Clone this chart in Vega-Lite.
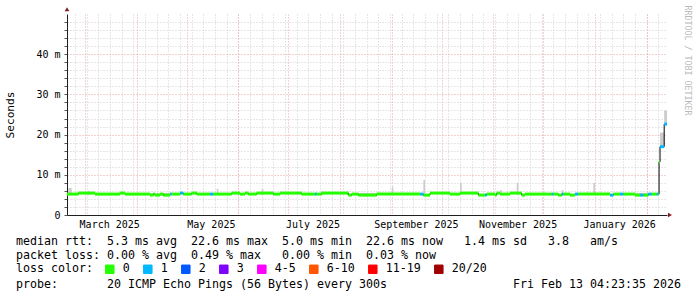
{
  "$schema": "https://vega.github.io/schema/vega-lite/v6.json",
  "width": 600,
  "height": 201,
  "autosize": {"type": "none"},
  "padding": {"left": 67, "top": 14, "right": 30, "bottom": 82},
  "background": "#ffffff",
  "config": {
    "view": {"stroke": null},
    "font": "DejaVu Sans Mono",
    "axis": {"labelFont": "DejaVu Sans Mono", "titleFont": "DejaVu Sans Mono", "labelColor": "#000000", "titleColor": "#000000", "domainColor": "#1f1f1f", "tickColor": "#1f1f1f", "titleFontWeight": "normal"}
  },
  "datasets": {
    "median": [
      {"t0": "2025-02-18T04:23:35Z", "t1": "2025-02-25", "rtt": 5.2, "loss": "0"},
      {"t0": "2025-02-25", "t1": "2025-03-07", "rtt": 5.45, "loss": "0"},
      {"t0": "2025-03-07", "t1": "2025-03-22", "rtt": 5.2, "loss": "0"},
      {"t0": "2025-03-22", "t1": "2025-03-25", "rtt": 5.45, "loss": "0"},
      {"t0": "2025-03-25", "t1": "2025-04-09", "rtt": 5.2, "loss": "0"},
      {"t0": "2025-04-09", "t1": "2025-04-11", "rtt": 4.95, "loss": "0"},
      {"t0": "2025-04-11", "t1": "2025-04-12", "rtt": 5.2, "loss": "0"},
      {"t0": "2025-04-12", "t1": "2025-04-15", "rtt": 4.95, "loss": "0"},
      {"t0": "2025-04-15", "t1": "2025-04-17", "rtt": 5.2, "loss": "0"},
      {"t0": "2025-04-17", "t1": "2025-04-21", "rtt": 4.95, "loss": "0"},
      {"t0": "2025-04-21", "t1": "2025-04-22", "rtt": 5.2, "loss": "1"},
      {"t0": "2025-04-22", "t1": "2025-04-27", "rtt": 5.2, "loss": "0"},
      {"t0": "2025-04-27", "t1": "2025-04-29", "rtt": 5.45, "loss": "1"},
      {"t0": "2025-04-29", "t1": "2025-05-04", "rtt": 5.2, "loss": "0"},
      {"t0": "2025-05-04", "t1": "2025-05-07", "rtt": 5.45, "loss": "0"},
      {"t0": "2025-05-07", "t1": "2025-05-15", "rtt": 5.2, "loss": "0"},
      {"t0": "2025-05-15", "t1": "2025-05-17", "rtt": 5.2, "loss": "1"},
      {"t0": "2025-05-17", "t1": "2025-05-28", "rtt": 5.2, "loss": "0"},
      {"t0": "2025-05-28", "t1": "2025-06-02", "rtt": 5.45, "loss": "0"},
      {"t0": "2025-06-02", "t1": "2025-06-05", "rtt": 5.2, "loss": "0"},
      {"t0": "2025-06-05", "t1": "2025-06-07", "rtt": 5.45, "loss": "0"},
      {"t0": "2025-06-07", "t1": "2025-06-12", "rtt": 5.2, "loss": "0"},
      {"t0": "2025-06-12", "t1": "2025-06-22", "rtt": 5.45, "loss": "0"},
      {"t0": "2025-06-22", "t1": "2025-06-26", "rtt": 5.2, "loss": "0"},
      {"t0": "2025-06-26", "t1": "2025-07-09", "rtt": 5.45, "loss": "0"},
      {"t0": "2025-07-09", "t1": "2025-07-17", "rtt": 5.2, "loss": "0"},
      {"t0": "2025-07-17", "t1": "2025-07-18", "rtt": 5.2, "loss": "1"},
      {"t0": "2025-07-18", "t1": "2025-07-21", "rtt": 5.2, "loss": "0"},
      {"t0": "2025-07-21", "t1": "2025-08-06", "rtt": 5.45, "loss": "0"},
      {"t0": "2025-08-06", "t1": "2025-08-08", "rtt": 4.95, "loss": "0"},
      {"t0": "2025-08-08", "t1": "2025-08-12", "rtt": 5.2, "loss": "0"},
      {"t0": "2025-08-12", "t1": "2025-08-23", "rtt": 4.95, "loss": "0"},
      {"t0": "2025-08-23", "t1": "2025-09-18", "rtt": 5.2, "loss": "0"},
      {"t0": "2025-09-18", "t1": "2025-09-20", "rtt": 5.2, "loss": "1"},
      {"t0": "2025-09-20", "t1": "2025-09-24", "rtt": 4.95, "loss": "0"},
      {"t0": "2025-09-24", "t1": "2025-10-06", "rtt": 5.45, "loss": "0"},
      {"t0": "2025-10-06", "t1": "2025-10-12", "rtt": 5.2, "loss": "0"},
      {"t0": "2025-10-12", "t1": "2025-10-23", "rtt": 5.45, "loss": "0"},
      {"t0": "2025-10-23", "t1": "2025-10-27", "rtt": 4.95, "loss": "0"},
      {"t0": "2025-10-27", "t1": "2025-10-28", "rtt": 4.95, "loss": "1"},
      {"t0": "2025-10-28", "t1": "2025-11-02", "rtt": 5.2, "loss": "0"},
      {"t0": "2025-11-02", "t1": "2025-11-03", "rtt": 4.95, "loss": "0"},
      {"t0": "2025-11-03", "t1": "2025-11-05", "rtt": 5.45, "loss": "0"},
      {"t0": "2025-11-05", "t1": "2025-11-11", "rtt": 5.2, "loss": "0"},
      {"t0": "2025-11-11", "t1": "2025-11-18", "rtt": 5.45, "loss": "0"},
      {"t0": "2025-11-18", "t1": "2025-11-20", "rtt": 4.95, "loss": "0"},
      {"t0": "2025-11-20", "t1": "2025-12-06", "rtt": 5.2, "loss": "0"},
      {"t0": "2025-12-06", "t1": "2025-12-07", "rtt": 5.2, "loss": "1"},
      {"t0": "2025-12-07", "t1": "2025-12-10", "rtt": 5.2, "loss": "0"},
      {"t0": "2025-12-10", "t1": "2025-12-12", "rtt": 4.95, "loss": "0"},
      {"t0": "2025-12-12", "t1": "2025-12-13", "rtt": 5.2, "loss": "1"},
      {"t0": "2025-12-13", "t1": "2025-12-17", "rtt": 5.2, "loss": "0"},
      {"t0": "2025-12-17", "t1": "2025-12-20", "rtt": 4.95, "loss": "0"},
      {"t0": "2025-12-20", "t1": "2025-12-22", "rtt": 5.2, "loss": "1"},
      {"t0": "2025-12-22", "t1": "2026-01-10", "rtt": 5.2, "loss": "0"},
      {"t0": "2026-01-10", "t1": "2026-01-12", "rtt": 4.95, "loss": "1"},
      {"t0": "2026-01-12", "t1": "2026-01-16", "rtt": 5.2, "loss": "0"},
      {"t0": "2026-01-16", "t1": "2026-01-18", "rtt": 5.2, "loss": "1"},
      {"t0": "2026-01-18", "t1": "2026-01-25", "rtt": 5.2, "loss": "0"},
      {"t0": "2026-01-25", "t1": "2026-01-28", "rtt": 4.95, "loss": "0"},
      {"t0": "2026-01-28", "t1": "2026-01-30", "rtt": 4.95, "loss": "1"},
      {"t0": "2026-01-30", "t1": "2026-02-02", "rtt": 4.95, "loss": "0"},
      {"t0": "2026-02-02", "t1": "2026-02-04", "rtt": 5.2, "loss": "1"},
      {"t0": "2026-02-04", "t1": "2026-02-07", "rtt": 5.2, "loss": "0"},
      {"t0": "2026-02-07", "t1": "2026-02-08", "rtt": 5.2, "loss": "1"},
      {"t0": "2026-02-08", "t1": "2026-02-08T10:00:00Z", "rtt": 5.2, "loss": "0"},
      {"t0": "2026-02-08T10:00:00Z", "t1": "2026-02-09", "rtt": 13.2, "loss": "0"},
      {"t0": "2026-02-09", "t1": "2026-02-11T12:00:00Z", "rtt": 17.0, "loss": "1"},
      {"t0": "2026-02-11T12:00:00Z", "t1": "2026-02-13T04:23:35Z", "rtt": 22.6, "loss": "1"}
    ],
    "smoke": [
      {"t0": "2025-02-19", "t1": "2025-02-21", "lo": 5.0, "hi": 6.7},
      {"t0": "2025-03-03", "t1": "2025-03-04", "lo": 5.0, "hi": 6.0},
      {"t0": "2025-04-09", "t1": "2025-04-21", "lo": 4.8, "hi": 5.5},
      {"t0": "2025-05-19", "t1": "2025-05-20", "lo": 5.0, "hi": 6.5},
      {"t0": "2025-06-15", "t1": "2025-06-16", "lo": 5.0, "hi": 6.5},
      {"t0": "2025-07-21", "t1": "2025-07-22", "lo": 5.0, "hi": 5.9},
      {"t0": "2025-08-05", "t1": "2025-08-06", "lo": 5.0, "hi": 5.9},
      {"t0": "2025-08-12", "t1": "2025-08-23", "lo": 4.8, "hi": 5.5},
      {"t0": "2025-09-01", "t1": "2025-09-02", "lo": 5.0, "hi": 6.9},
      {"t0": "2025-09-20", "t1": "2025-09-21", "lo": 5.0, "hi": 8.7},
      {"t0": "2025-10-12", "t1": "2025-10-13", "lo": 5.0, "hi": 8.0},
      {"t0": "2025-11-05", "t1": "2025-11-06", "lo": 5.0, "hi": 6.2},
      {"t0": "2025-11-15", "t1": "2025-11-16", "lo": 5.0, "hi": 8.0},
      {"t0": "2025-12-12", "t1": "2025-12-13", "lo": 5.0, "hi": 6.2},
      {"t0": "2025-12-31", "t1": "2026-01-01", "lo": 5.0, "hi": 8.0},
      {"t0": "2026-01-25", "t1": "2026-02-02", "lo": 4.8, "hi": 5.5},
      {"t0": "2026-02-09", "t1": "2026-02-11T12:00:00Z", "lo": 17.0, "hi": 20.5},
      {"t0": "2026-02-11T12:00:00Z", "t1": "2026-02-13T04:23:35Z", "lo": 22.6, "hi": 26.0}
    ],
    "arrows": [
      {"t": "2025-02-18T04:23:35Z", "v": 51.2, "dir": "up"},
      {"t": "2026-02-14T23:30:00Z", "v": 0, "dir": "right"}
    ]
  },
  "title": {
    "text": [
      "median rtt:\u00a0\u00a05.3 ms avg\u00a0\u00a022.6 ms max\u00a0\u00a05.0 ms min\u00a0\u00a022.6 ms now\u00a0\u00a0\u00a01.4 ms sd\u00a0\u00a0\u00a03.8\u00a0\u00a0\u00a0am/s",
      "packet loss: 0.00 % avg\u00a0\u00a00.49 % max\u00a0\u00a0\u00a00.00 % min\u00a0\u00a00.03 % now"
    ],
    "subtitle": "probe:\u00a0\u00a0\u00a0\u00a0\u00a0\u00a0\u00a020 ICMP Echo Pings (56 Bytes) every 300s\u00a0\u00a0\u00a0\u00a0\u00a0\u00a0\u00a0\u00a0\u00a0\u00a0\u00a0\u00a0\u00a0\u00a0\u00a0\u00a0\u00a0\u00a0Fri Feb 13 04:23:35 2026",
    "orient": "bottom",
    "anchor": "start",
    "frame": "group",
    "dx": -51,
    "offset": -40,
    "baseline": "top",
    "font": "DejaVu Sans Mono",
    "fontSize": 11.63,
    "fontWeight": "normal",
    "color": "#000000",
    "lineHeight": 14.3,
    "subtitleFont": "DejaVu Sans Mono",
    "subtitleFontSize": 11.63,
    "subtitleColor": "#000000",
    "subtitleLineHeight": 14.3,
    "subtitlePadding": 17
  },
  "layer": [
    {
      "data": {"name": "smoke"},
      "mark": {"type": "rect", "color": "#cccccc"},
      "encoding": {
        "x": {
          "field": "t0", "type": "temporal",
          "scale": {"type": "utc", "nice": false, "domain": [
            {"year": 2025, "month": 2, "date": 18, "hours": 4, "minutes": 23, "seconds": 35, "utc": true},
            {"year": 2026, "month": 2, "date": 13, "hours": 4, "minutes": 23, "seconds": 35, "utc": true}
          ]},
          "axis": {"orient": "bottom", "tickCount": "week", "grid": true, "gridColor": "#cfcfcf", "gridDash": [1, 2], "labels": false, "ticks": false, "domain": false, "title": null}
        },
        "x2": {"field": "t1"},
        "y": {
          "field": "lo", "type": "quantitative",
          "scale": {"domain": [0, 50], "nice": false},
          "axis": {
            "orient": "left",
            "values": [0, 2, 4, 6, 8, 10, 12, 14, 16, 18, 20, 22, 24, 26, 28, 30, 32, 34, 36, 38, 40, 42, 44, 46, 48],
            "grid": true,
            "gridColor": {"condition": {"test": "datum.value % 10 === 0", "value": "#eaa4a4"}, "value": "#cfcfcf"},
            "gridOpacity": {"condition": {"test": "datum.value === 0", "value": 0}, "value": 1},
            "gridDash": [1, 2],
            "labelExpr": "datum.value % 10 === 0 ? (datum.value === 0 ? '0' : datum.value + ' m') : ''",
            "labelFontSize": 10,
            "labelPadding": 4,
            "labelOverlap": false,
            "tickSize": 3,
            "tickColor": "#555555",
            "title": "Seconds",
            "titleFontSize": 11.2,
            "titleX": -54,
            "titleY": 100.5,
            "titleAngle": -90,
            "titleAlign": "center",
            "titleBaseline": "alphabetic"
          }
        },
        "y2": {"field": "hi"}
      }
    },
    {
      "data": {"name": "median"},
      "mark": {"type": "line", "interpolate": "step-after", "color": "#000000", "strokeWidth": 1},
      "encoding": {
        "x": {
          "field": "t0", "type": "temporal",
          "axis": {"orient": "bottom", "tickCount": "month", "grid": true, "gridColor": "#eaa4a4", "gridDash": [1, 2], "labels": false, "ticks": false, "domain": false, "title": null}
        },
        "y": {
          "field": "rtt", "type": "quantitative",
          "axis": {"orient": "right", "grid": false, "labels": false, "ticks": false, "domain": false, "title": "RRDTOOL / TOBI OETIKER", "titleColor": "#bbbbbb", "titleFontSize": 8.3, "titleAngle": 90, "titleX": 19, "titleY": -9, "titleAlign": "left", "titleBaseline": "middle"}
        }
      }
    },
    {
      "data": {"name": "median"},
      "mark": {"type": "rule", "strokeWidth": 3, "strokeCap": "butt"},
      "encoding": {
        "x": {
          "field": "t0", "type": "temporal",
          "axis": {
            "orient": "bottom",
            "values": [
              {"year": 2025, "month": 3, "date": 15, "hours": 12, "utc": true},
              {"year": 2025, "month": 5, "date": 15, "hours": 12, "utc": true},
              {"year": 2025, "month": 7, "date": 15, "hours": 12, "utc": true},
              {"year": 2025, "month": 9, "date": 15, "hours": 12, "utc": true},
              {"year": 2025, "month": 11, "date": 15, "hours": 12, "utc": true},
              {"year": 2026, "month": 1, "date": 15, "hours": 12, "utc": true}
            ],
            "format": "%B %Y",
            "grid": false, "ticks": false, "domain": true,
            "labelFontSize": 10, "labelPadding": 4, "labelOverlap": false, "labelFlush": false,
            "title": null
          }
        },
        "x2": {"field": "t1"},
        "y": {"field": "rtt", "type": "quantitative", "axis": null},
        "color": {
          "field": "loss", "type": "nominal",
          "scale": {
            "domain": ["0", "1", "2", "3", "4-5", "6-10", "11-19", "20/20"],
            "range": ["#26ff00", "#00b8ff", "#0059ff", "#7e00ff", "#ff00ff", "#ff5500", "#ff0000", "#a10000"]
          },
          "legend": {
            "orient": "none", "legendX": -51, "legendY": 249, "direction": "horizontal",
            "title": "loss color:", "titleOrient": "left",
            "titleFont": "DejaVu Sans Mono", "titleFontSize": 11.63, "titleFontWeight": "normal", "titleColor": "#000000", "titlePadding": 11,
            "labelFont": "DejaVu Sans Mono", "labelFontSize": 11.63, "labelColor": "#000000", "labelOffset": 7,
            "symbolType": "square", "symbolSize": 72, "symbolStrokeWidth": 1, "symbolStrokeColor": "#000000",
            "columnPadding": 11, "padding": 0,
            "encode": {"symbols": {"update": {"fill": {"scale": "color", "field": "value"}, "fillOpacity": {"value": 1}, "stroke": {"value": "#000000"}, "strokeWidth": {"value": 1}}}}
          }
        }
      }
    },
    {
      "data": {"name": "arrows"},
      "mark": {"type": "point", "filled": true, "opacity": 1, "color": "#7f1f1f", "size": 22},
      "encoding": {
        "x": {"field": "t", "type": "temporal", "axis": null},
        "y": {"field": "v", "type": "quantitative", "axis": null},
        "shape": {"field": "dir", "type": "nominal", "scale": {"domain": ["up", "right"], "range": ["triangle-up", "triangle-right"]}, "legend": null}
      }
    }
  ],
  "resolve": {"axis": {"x": "independent", "y": "independent"}}
}
